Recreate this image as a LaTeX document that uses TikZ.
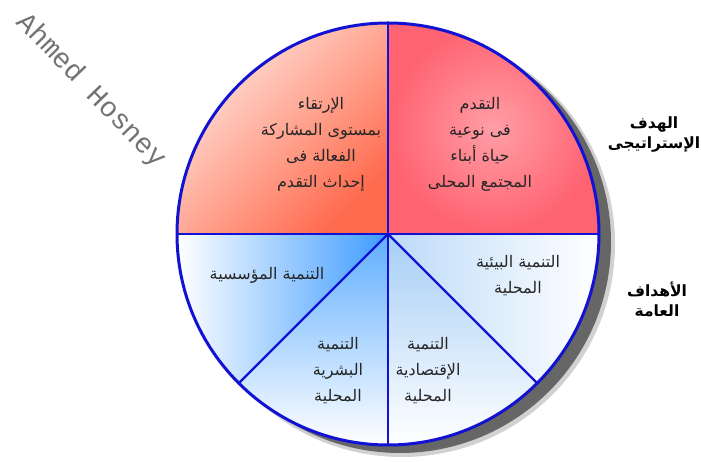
\documentclass[tikz,border=0pt]{standalone}
\usepackage{fontspec}
\newfontfamily\arabicfont[Script=Arabic]{DejaVu Sans}
\newfontfamily\wmfont{Liberation Mono}
\TeXXeTstate=1
\newcommand{\arl}[1]{\beginR #1\endR}
\definecolor{tlred}{HTML}{FF6A4D}
\definecolor{tlpale}{HTML}{FFE6DE}
\definecolor{trpink}{HTML}{FF6270}
\definecolor{trlight}{HTML}{FF9EA6}
\definecolor{blueA}{HTML}{3E9BFF}
\definecolor{blueB}{HTML}{5EAEFF}
\definecolor{blueC}{HTML}{A6CEF6}
\definecolor{blueD}{HTML}{BCDAF8}
\definecolor{rimblue}{HTML}{1212D2}
\definecolor{shadowgray}{HTML}{666666}
\begin{document}
\begin{tikzpicture}[x=1pt,y=1pt,
  lbl/.style={font=\arabicfont\fontsize{16}{26}\selectfont, align=center, text=black!85},
  hdr/.style={font=\arabicfont\bfseries\fontsize{15.5}{20}\selectfont, align=center, text=black},
  divider/.style={draw=rimblue, line width=2.2pt},
  rim/.style={draw=rimblue, line width=3pt}]
\useasboundingbox (0,0) rectangle (701,462);
\coordinate (C) at (388,228);
\def\R{211}
% shadow
\fill[shadowgray!50, opacity=0.6] (402,218) circle (213);
\fill[shadowgray] (400,220) circle (211);
% sectors
\shade[top color=tlpale, bottom color=tlred, shading angle=45]
  (C) -- ++(180:\R) arc[start angle=180, end angle=90, radius=\R] -- cycle;
\shade[inner color=trlight, outer color=trpink]
  (C) -- ++(0:\R) arc[start angle=0, end angle=90, radius=\R] -- cycle;
\shade[left color=white, right color=blueA]
  (C) -- ++(180:\R) arc[start angle=180, end angle=225, radius=\R] -- cycle;
\shade[top color=blueB, bottom color=white]
  (C) -- ++(225:\R) arc[start angle=225, end angle=270, radius=\R] -- cycle;
\shade[top color=blueC, bottom color=white]
  (C) -- ++(270:\R) arc[start angle=270, end angle=315, radius=\R] -- cycle;
\shade[left color=blueD, right color=white]
  (C) -- ++(315:\R) arc[start angle=315, end angle=360, radius=\R] -- cycle;
% dividers
\foreach \a in {0,90,180,225,270,315} \draw[divider] (C) -- ++(\a:\R);
\draw[rim] (C) circle (\R);
% texts
\node[lbl] (tl) at (321,318) {\arl{الإرتقاء}\\\arl{بمستوى المشاركة}\\\arl{الفعالة فى}\\\arl{إحداث التقدم}};
\node[lbl] (tr) at (480,318) {\arl{التقدم}\\\arl{فى نوعية}\\\arl{حياة أبناء}\\\arl{المجتمع المحلى}};
\node[lbl] (s1) at (267,187) {\arl{التنمية المؤسسية}};
\node[lbl] (s2) at (338,91) {\arl{التنمية}\\\arl{البشرية}\\\arl{المحلية}};
\node[lbl] (s3) at (428,91) {\arl{التنمية}\\\arl{الإقتصادية}\\\arl{المحلية}};
\node[lbl] (s4) at (518,186) {\arl{التنمية البيئية}\\\arl{المحلية}};
\node[hdr] (h1) at (654,327) {\arl{الهدف}\\\arl{الإستراتيجى}};
\node[hdr] (h2) at (657,163) {\arl{الأهداف}\\\arl{العامة}};
% watermark
\node[font=\wmfont\fontsize{28}{28}\selectfont, text=black!55, rotate=-46] (wm) at (91,371) {Ahmed Hosney};
\end{tikzpicture}
\end{document}
